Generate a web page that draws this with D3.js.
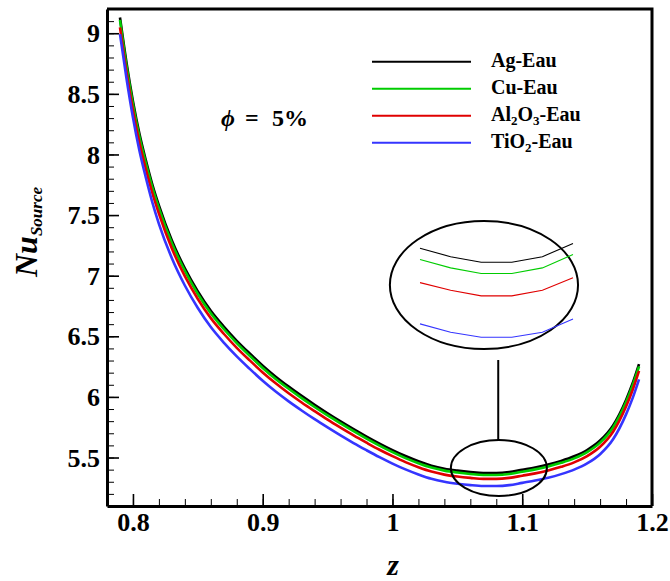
<!DOCTYPE html>
<html>
<head>
<meta charset="utf-8">
<script src="https://cdn.jsdelivr.net/npm/d3@7"></script>
<style>
body{margin:0;background:#fff;}
svg{display:block;font-family:"Liberation Serif","Times New Roman",serif;}
</style>
</head>
<body>
<svg width="670" height="581"></svg>
<script>
// values
var zValues=[0.79,0.795,0.80,0.805,0.81,0.815,0.82,0.83,0.84,0.85,0.86,0.87,0.88,0.89,0.90,0.91,0.92,0.93,0.94,0.95,0.96,0.97,0.98,0.99,1.00,1.01,1.02,1.03,1.04,1.05,1.06,1.07,1.08,1.09,1.10,1.11,1.12,1.13,1.14,1.15,1.16,1.17,1.18,1.185,1.19];
var nuAg=[9.13,8.76,8.44,8.17,7.95,7.75,7.58,7.29,7.06,6.87,6.71,6.58,6.463,6.358,6.258,6.167,6.085,6.008,5.935,5.865,5.798,5.734,5.673,5.615,5.561,5.512,5.469,5.433,5.408,5.392,5.38,5.372,5.372,5.38,5.399,5.418,5.442,5.472,5.51,5.562,5.64,5.765,5.975,6.11,6.27];
var nuCu=[9.11,8.734,8.415,8.145,7.926,7.727,7.557,7.268,7.039,6.849,6.690,6.560,6.444,6.339,6.239,6.148,6.067,5.990,5.917,5.847,5.781,5.717,5.656,5.598,5.544,5.495,5.453,5.417,5.392,5.376,5.364,5.356,5.356,5.364,5.383,5.402,5.426,5.456,5.493,5.545,5.623,5.748,5.957,6.092,6.251];
var nuAl2O3=[9.048,8.681,8.364,8.096,7.878,7.680,7.512,7.224,6.996,6.808,6.650,6.521,6.405,6.301,6.202,6.112,6.030,5.954,5.882,5.812,5.746,5.682,5.622,5.564,5.511,5.462,5.420,5.384,5.359,5.343,5.332,5.324,5.324,5.332,5.350,5.369,5.393,5.423,5.460,5.512,5.589,5.713,5.921,6.055,6.214];
var nuTiO2=[8.993,8.629,8.305,8.031,7.807,7.603,7.428,7.144,6.919,6.733,6.576,6.448,6.334,6.231,6.133,6.044,5.963,5.888,5.816,5.748,5.682,5.619,5.560,5.503,5.450,5.402,5.360,5.324,5.300,5.284,5.272,5.265,5.265,5.272,5.291,5.310,5.333,5.363,5.400,5.451,5.527,5.650,5.856,5.988,6.145];

var seriesNames=["Ag-Eau","Cu-Eau","Al2O3-Eau","TiO2-Eau"];
var seriesColours=["#000000","#00cc00","#e00000","#3535ff"];
var seriesValues=[nuAg,nuCu,nuAl2O3,nuTiO2];

var xTicks=[0.8,0.9,1,1.1,1.2];
var yTicks=[5.5,6,6.5,7,7.5,8,8.5,9];

var svg=d3.select("svg");
var pLeft=107,pRight=652,pTop=9,pBottom=506;

var x=d3.scaleLinear().domain([0.78,1.2]).range([pLeft,pRight]);
var y=d3.scaleLinear().domain([5.1,9.2]).range([pBottom,pTop]);

// minor ticks first, then major with labels
svg.append("g").attr("transform","translate(0,"+pBottom+")")
	.call(d3.axisBottom(x).tickValues(d3.range(0.78,1.2001,0.02)).tickSize(-7).tickSizeOuter(0).tickFormat(""))
	.call(g=>g.select(".domain").remove());
svg.append("g").attr("transform","translate("+pLeft+",0)")
	.call(d3.axisLeft(y).tickValues(d3.range(5.2,9.2001,0.1)).tickSize(-7).tickSizeOuter(0).tickFormat(""))
	.call(g=>g.select(".domain").remove());

var xAxis=svg.append("g").attr("transform","translate(0,"+pBottom+")")
	.call(d3.axisBottom(x).tickValues(xTicks).tickSize(-12).tickSizeOuter(0).tickFormat(d3.format("")));
var yAxis=svg.append("g").attr("transform","translate("+pLeft+",0)")
	.call(d3.axisLeft(y).tickValues(yTicks).tickSize(-12).tickSizeOuter(0).tickPadding(7).tickFormat(d3.format("")));

[xAxis,yAxis].forEach(function(a){
	a.selectAll(".tick line").attr("stroke-width",1.6);
	a.select(".domain").attr("stroke-width",3);
	a.selectAll("text").attr("font-family","Liberation Serif").attr("font-weight","bold").attr("font-size",26).attr("fill","#000");
});
xAxis.selectAll("text").attr("y",25).attr("dy",null);
yAxis.selectAll("text").attr("dy","0.33em");
svg.selectAll(".tick line").attr("stroke","#000");

// top and right frame
svg.append("path").attr("d","M"+pLeft+","+pTop+"H"+pRight+"V"+pBottom)
	.attr("fill","none").attr("stroke","#000").attr("stroke-width",3);

// curves
var line=d3.line().x(function(d){return x(d[0]);}).y(function(d){return y(d[1]);}).curve(d3.curveMonotoneX);
seriesValues.forEach(function(vals,i){
	svg.append("path").datum(zValues.map(function(z,j){return [z,vals[j]];}))
		.attr("d",line).attr("fill","none").attr("stroke",seriesColours[i]).attr("stroke-width",2.6);
});

// zoom box on the minimum and the magnified inset
var zoomCentre=[1.082,5.413],zoomHalf=[0.037,0.231];
var insetCentre=[1.0705,6.923],insetHalf=[0.0725,0.528];
function ell(c,h){
	svg.append("ellipse").attr("cx",x(c[0])).attr("cy",y(c[1]))
		.attr("rx",x(c[0]+h[0])-x(c[0])).attr("ry",y(c[1])-y(c[1]+h[1]))
		.attr("fill","none").attr("stroke","#000").attr("stroke-width",2);
}
ell(zoomCentre,zoomHalf);
ell(insetCentre,insetHalf);
svg.append("line").attr("x1",x(1.0815)).attr("x2",x(1.0815))
	.attr("y1",y(insetCentre[1]-insetHalf[1])+11).attr("y2",y(zoomCentre[1]+zoomHalf[1]))
	.attr("stroke","#000").attr("stroke-width",2);

var insetX=d3.scaleLinear().domain([1.05,1.10]).range([420,573]);
var insetY=d3.scaleLinear().domain([5.24,5.42]).range([354.7,228.7]);
var insetLine=d3.line().x(function(d){return insetX(d[0]);}).y(function(d){return insetY(d[1]);});
seriesValues.forEach(function(vals,i){
	var pts=zValues.map(function(z,j){return [z,vals[j]];}).filter(function(d){return d[0]>=1.049&&d[0]<=1.101;});
	svg.append("path").datum(pts).attr("d",insetLine).attr("fill","none")
		.attr("stroke",seriesColours[i]).attr("stroke-width",1.1);
});

// legend, digits as subscripts
function subText(sel,s,size){
	var low=false;
	s.split(/(\d)/).forEach(function(p){
		if(!p) return;
		var isDigit=/\d/.test(p);
		var dy=isDigit?(low?0:4):(low?-4:0);
		sel.append("tspan").attr("font-size",isDigit?size*0.65:size).attr("dy",dy).text(p);
		low=isDigit;
	});
}
var legend=svg.append("g");
seriesNames.forEach(function(n,i){
	var ly=61.7+i*27;
	legend.append("line").attr("x1",372).attr("x2",471).attr("y1",ly).attr("y2",ly)
		.attr("stroke",seriesColours[i]).attr("stroke-width",2);
	var t=legend.append("text").attr("x",491).attr("y",ly+5).attr("font-weight","bold").attr("font-size",20);
	subText(t,n,20);
});

// phi label
var phi=svg.append("text").attr("y",126).attr("font-weight","bold").attr("font-size",24);
phi.append("tspan").attr("x",221).attr("font-style","italic").text("\u03d5");
phi.append("tspan").attr("x",245).text("=");
phi.append("tspan").attr("x",272).text("5%");

// axis titles
svg.append("text").attr("x",393).attr("y",575).attr("text-anchor","middle")
	.attr("font-weight","bold").attr("font-style","italic").attr("font-size",30).text("z");
var yt=svg.append("text").attr("transform","translate(37,277) rotate(-90)")
	.attr("font-weight","bold").attr("font-style","italic");
yt.append("tspan").attr("font-size",32).text("Nu");
yt.append("tspan").attr("font-size",17).attr("dy",5).text("Source");
</script>
</body>
</html>
